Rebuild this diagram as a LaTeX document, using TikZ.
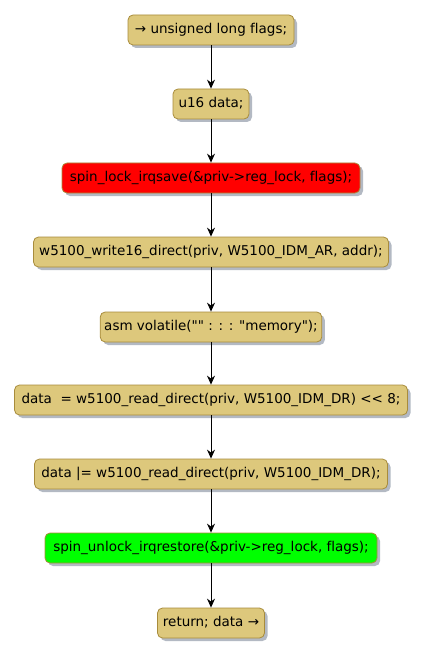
\documentclass[tikz,border=0pt]{standalone}
\usepackage{fontspec}
\setmainfont{DejaVu Sans}[Ligatures={TeXOff,CommonOff}]
\usetikzlibrary{arrows.meta,shadows}
\definecolor{actfill}{RGB}{221,200,124}
\definecolor{actborder}{RGB}{168,140,60}
\definecolor{shadowc}{RGB}{160,168,180}
\begin{document}
\begin{tikzpicture}[x=1pt,y=-1pt,
  act/.style={draw=actborder, fill=actfill, rounded corners=5pt, line width=0.8pt,
    minimum height=30pt, inner xsep=4pt, font=\fontsize{13.5}{16}\selectfont,
    text height=10pt, text depth=3pt,
    drop shadow={shadow xshift=3pt, shadow yshift=-3pt, fill=shadowc, opacity=0.8}},
  redact/.style={act, fill=red},
  greenact/.style={act, fill={rgb,255:red,0;green,255;blue,0}},
  flow/.style={-{Stealth[length=9pt,width=8pt,inset=3pt]}, line width=0.8pt, black}]
\useasboundingbox (0,0) rectangle (425,655);
\node[act, minimum width=166pt] (n1) at (211,30) {→ unsigned long flags;};
\node[act, minimum width=76pt] (n2) at (211,104) {u16 data;};
\node[redact, minimum width=298pt] (n3) at (211,178) {spin\_lock\_irqsave(\&priv->reg\_lock, flags);};
\node[act, minimum width=355pt] (n4) at (211,252) {w5100\_write16\_direct(priv, W5100\_IDM\_AR, addr);};
\node[act, minimum width=212pt] (n5) at (211,327) {asm volatile("" : : : "memory");};
\node[act, minimum width=393pt] (n6) at (211,400) {data \ = w5100\_read\_direct(priv, W5100\_IDM\_DR) <{}< 8;};
\node[act, minimum width=353pt] (n7) at (211,474) {data |= w5100\_read\_direct(priv, W5100\_IDM\_DR);};
\node[greenact, minimum width=332pt] (n8) at (211,548) {spin\_unlock\_irqrestore(\&priv->reg\_lock, flags);};
\node[act, minimum width=107pt] (n9) at (211,623) {return; data →};
\foreach \a/\b in {n1/n2,n2/n3,n3/n4,n4/n5,n5/n6,n6/n7,n7/n8,n8/n9}
  \draw[flow] (\a) -- (\b);
\end{tikzpicture}
\end{document}
